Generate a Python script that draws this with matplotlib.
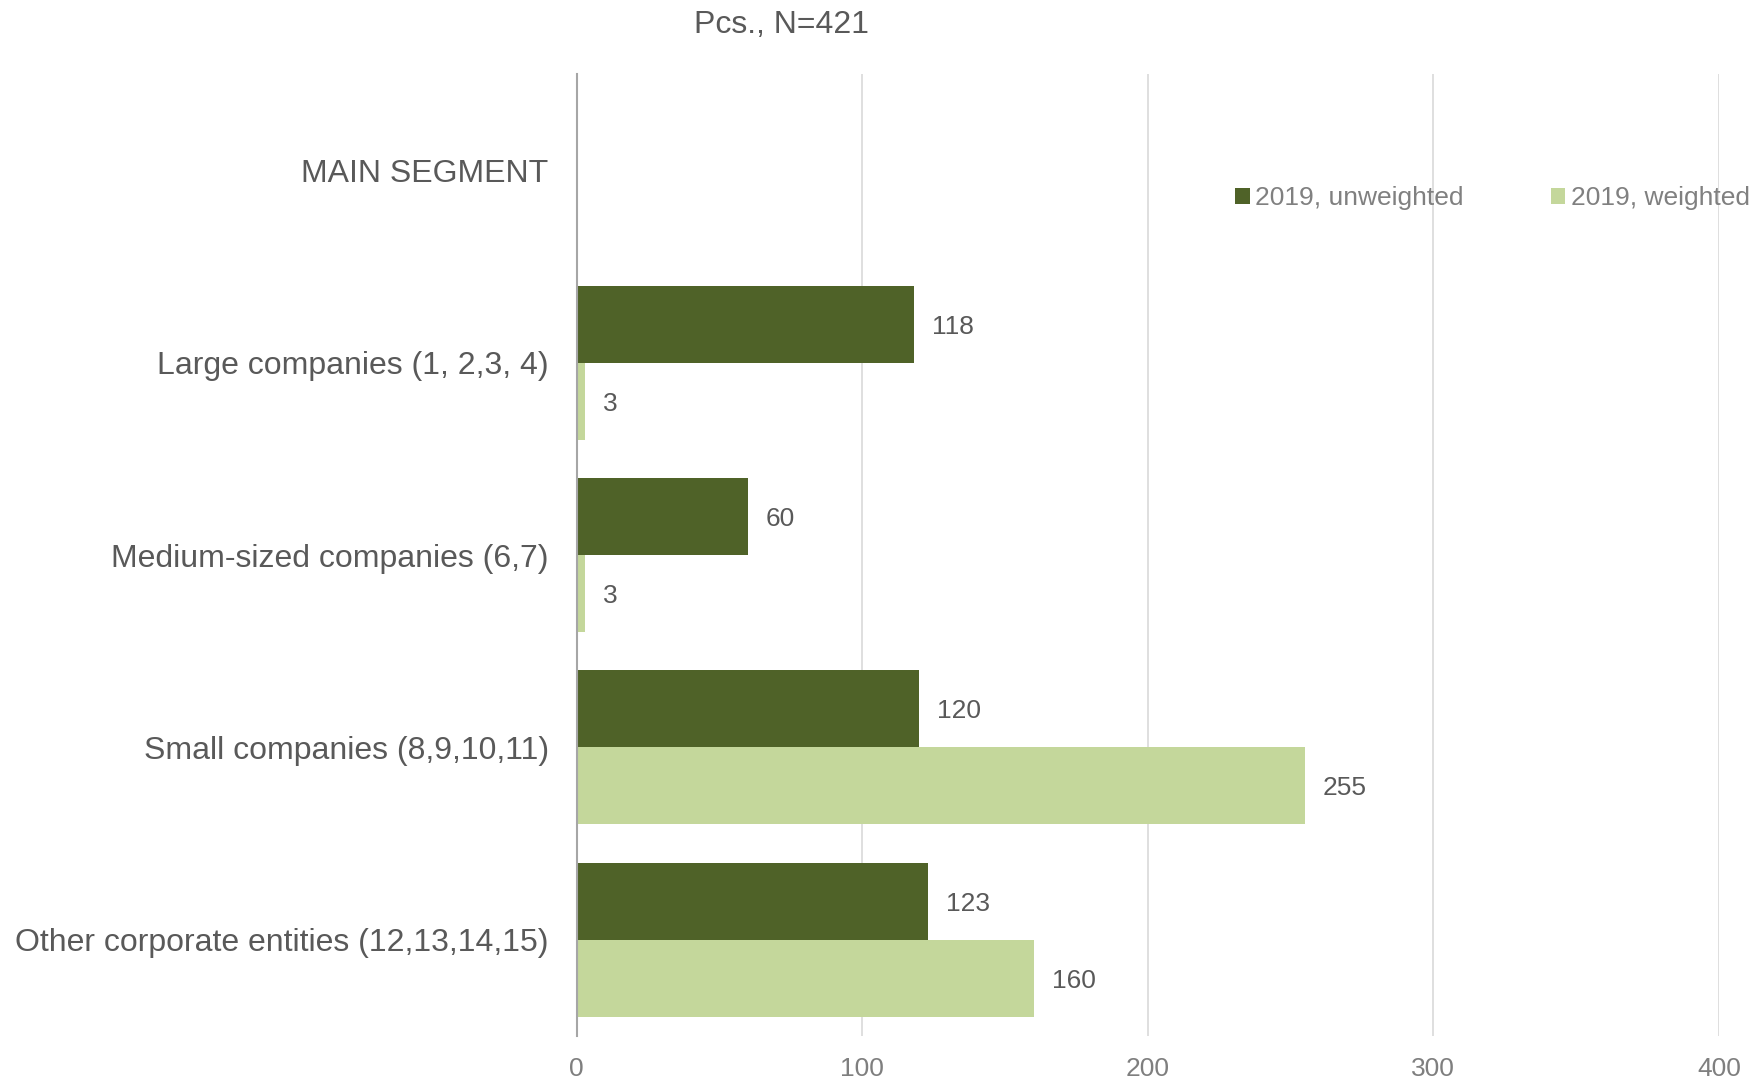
import numpy as np
import matplotlib.pyplot as plt

categories = ['MAIN SEGMENT', 'Large companies (1, 2,3, 4)', 'Medium-sized companies (6,7)',
              'Small companies (8,9,10,11)', 'Other corporate entities (12,13,14,15)']
unweighted = [np.nan, 118, 60, 120, 123]
weighted = [np.nan, 3, 3, 255, 160]
series_names = ['2019, unweighted', '2019, weighted']
x_ticks = [0, 100, 200, 300, 400]

dark = '#4f6228'
light = '#c4d79b'
txt = '#595959'

plt.rcParams['font.family'] = ['Liberation Sans', 'DejaVu Sans']

fig = plt.figure(figsize=(17.62, 10.86), dpi=100)
ax = fig.add_axes([0.3272, 0.046, 0.6484, 0.8859])

y = np.arange(len(categories))
h = 0.4
b1 = ax.barh(y - h / 2, unweighted, height=h, color=dark, label=series_names[0])
b2 = ax.barh(y + h / 2, weighted, height=h, color=light, label=series_names[1])

for bars, vals in ((b1, unweighted), (b2, weighted)):
    for rect, v in zip(bars, vals):
        if np.isnan(v):
            continue
        ax.annotate(f'{v:g}', (v, rect.get_y() + rect.get_height() / 2),
                    xytext=(13, 0), textcoords='offset points',
                    va='center_baseline', ha='left', fontsize=19, color=txt)

ax.set_ylim(len(categories) - 0.5, -0.5)
ax.set_xlim(0, 400)
ax.set_yticks(y)
ax.set_yticklabels(categories, fontsize=23, color=txt)
ax.set_xticks(x_ticks)
ax.set_xticklabels([str(t) for t in x_ticks], fontsize=19, color='#7f7f7f')
ax.tick_params(axis='both', length=0)
ax.tick_params(axis='y', pad=20)
ax.tick_params(axis='x', pad=15)

ax.grid(axis='x', color='#d9d9d9', linewidth=1.2)
ax.set_axisbelow(True)
for s in ['top', 'right', 'bottom']:
    ax.spines[s].set_visible(False)
ax.spines['left'].set_color('#a6a6a6')
ax.spines['left'].set_linewidth(1.5)

leg = fig.legend(handles=[b1, b2], loc='center right', bbox_to_anchor=(0.993, 0.8173),
                 ncol=2, frameon=False, fontsize=19, handlelength=0.55, handleheight=0.55,
                 handletextpad=0.2, columnspacing=3.3, borderpad=0, borderaxespad=0)
for t in leg.get_texts():
    t.set_color('#808080')

fig.text(781 / 1762, 1 - 25 / 1086, 'Pcs., N=421', ha='center', va='center',
         fontsize=23, color=txt)

fig.savefig('out.png', dpi=100)
